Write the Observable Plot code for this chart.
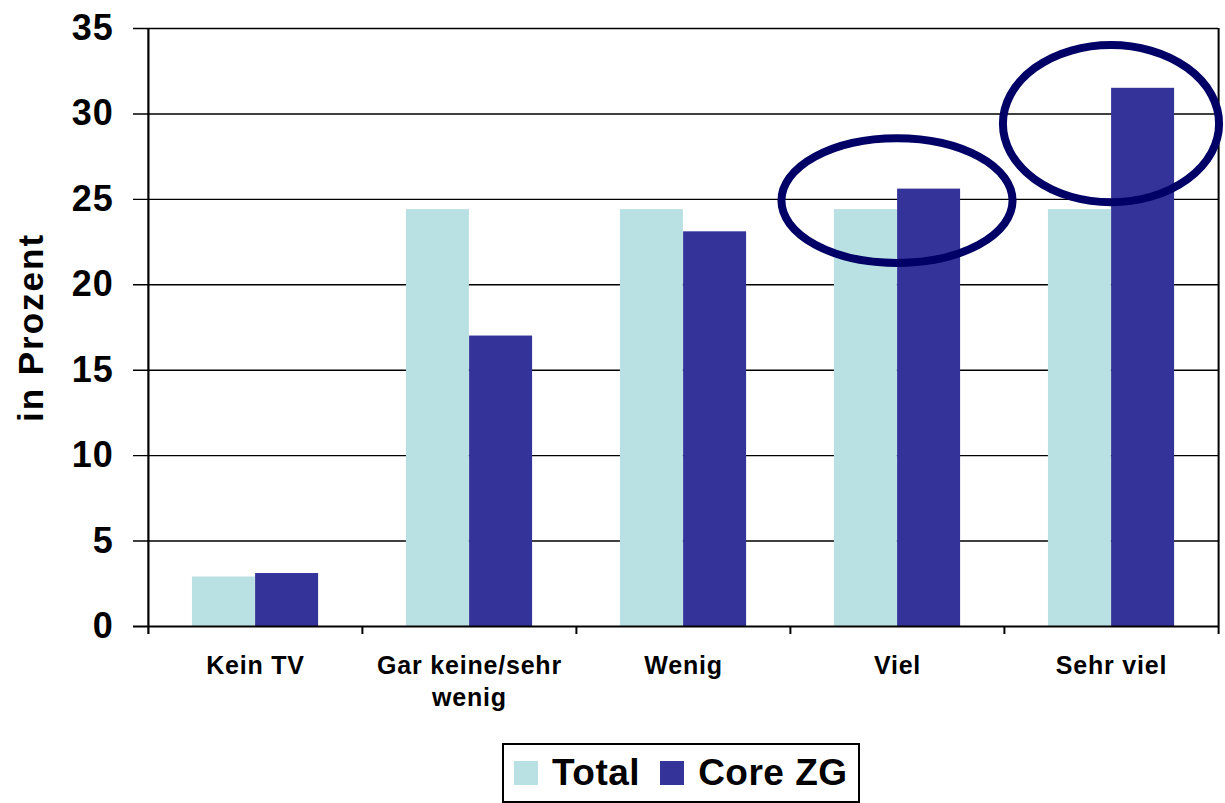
<!DOCTYPE html>
<html>
<head>
<meta charset="utf-8">
<script src="https://cdn.jsdelivr.net/npm/d3@7"></script>
<script src="https://cdn.jsdelivr.net/npm/@observablehq/plot@0.6"></script>
<style>
  body { margin: 0; background: #fff; font-family: "Liberation Sans", Arial, sans-serif; }
  #wrap { position: relative; width: 1225px; height: 803px; }
  #legend { position: absolute; left: 502px; top: 743px; width: 358px; height: 60px; box-sizing: border-box;
    border: 2px solid #000; display: flex; align-items: center; padding-left: 10px; font-weight: bold; font-size: 37px; color: #000; white-space: nowrap; }
  .sw { width: 24px; height: 24px; display: inline-block; margin-right: 14px; flex: none; }
  .item { display: flex; align-items: center; margin-right: 20px; letter-spacing: 0.5px; white-space: nowrap; }
</style>
</head>
<body>
<div id="wrap"><div id="chart"></div><div id="legend"></div></div>
<script>
const categories = ["Kein TV", "Gar keine/sehr wenig", "Wenig", "Viel", "Sehr viel"];
const xLabels = ["Kein TV", "Gar keine/sehr\nwenig", "Wenig", "Viel", "Sehr viel"];
const totalValues = [2.9, 24.4, 24.4, 24.4, 24.4];
const coreValues = [3.1, 17.0, 23.1, 25.6, 31.5];
const seriesNames = ["Total", "Core ZG"];
const seriesColors = ["#b9e0e3", "#333399"];
const yTicks = [0, 5, 10, 15, 20, 25, 30, 35];
const yLabel = "in Prozent";
// highlighted groups (ellipse annotations)
const annCats = ["Viel", "Sehr viel"];
const annCenterY = [24.9, 29.4];
const annRxBand = [0.54, 0.505];
const annRyUnits = [3.65, 4.6];

const width = 1225, height = 735;
const mL = 147, mR = 7, mT = 28, mB = 109;
const plotW = width - mL - mR, plotH = height - mT - mB;
const step = plotW / categories.length;

const data = categories.flatMap((c, i) => [
  {cat: c, series: seriesNames[0], value: totalValues[i]},
  {cat: c, series: seriesNames[1], value: coreValues[i]}
]);

const ellipses = (index, scales) => {
  const g = document.createElementNS("http://www.w3.org/2000/svg", "g");
  const x = scales.x, y = scales.y;
  const bw = typeof x.bandwidth === "function" ? x.bandwidth() : x.bandwidth;
  annCats.forEach((c, i) => {
    const e = document.createElementNS("http://www.w3.org/2000/svg", "ellipse");
    e.setAttribute("cx", x(c) + bw / 2);
    e.setAttribute("cy", y(annCenterY[i]));
    e.setAttribute("rx", bw * annRxBand[i]);
    e.setAttribute("ry", Math.abs(y(0) - y(annRyUnits[i])));
    e.setAttribute("fill", "none");
    e.setAttribute("stroke", "#000066");
    e.setAttribute("stroke-width", 8);
    g.appendChild(e);
  });
  return g;
};

const chart = Plot.plot({
  width, height,
  marginLeft: mL, marginRight: mR, marginTop: mT, marginBottom: mB,
  style: {fontFamily: "'Liberation Sans', Arial, sans-serif", background: "#fff", letterSpacing: "0.8px"},
  x: {type: "band", domain: categories, padding: 0, axis: null},
  y: {domain: [0, 35], axis: null},
  marks: [
    Plot.ruleY(yTicks.filter(d => d > 0), {y: d => d, stroke: "#000", strokeWidth: 1.4, insetLeft: -14}),
    Plot.barY(data.filter(d => d.series === seriesNames[0]), {x: "cat", y: "value", fill: seriesColors[0], insetLeft: step * 0.205, insetRight: step * 0.5}),
    Plot.barY(data.filter(d => d.series === seriesNames[1]), {x: "cat", y: "value", fill: seriesColors[1], insetLeft: step * 0.5, insetRight: step * 0.205}),
    Plot.ruleY([0], {stroke: "#000", strokeWidth: 2.2, insetLeft: -14}),
    // left axis line
    Plot.ruleX([categories[0]], {x: d => d, dx: -step / 2, stroke: "#000", strokeWidth: 2.2, insetBottom: -8}),
    // right border
    Plot.ruleX([categories[categories.length - 1]], {x: d => d, dx: step / 2, stroke: "#000", strokeWidth: 2, insetBottom: -8}),
    // inner category boundary ticks
    Plot.ruleX(categories.slice(1), {x: d => d, dx: -step / 2, stroke: "#000", strokeWidth: 2, insetTop: plotH, insetBottom: -8}),
    Plot.text(yTicks, {y: d => d, frameAnchor: "left", dx: -34, textAnchor: "end", text: d => String(d), fontSize: 36, fontWeight: "bold", fill: "#000"}),
    Plot.text(categories, {x: d => d, frameAnchor: "bottom", lineAnchor: "top", dy: 25, text: (d, i) => xLabels[i], fontSize: 25, fontWeight: "bold", lineHeight: 1.28, fill: "#000"}),
    Plot.text([yLabel], {frameAnchor: "left", textAnchor: "middle", rotate: -90, dx: -116, text: d => d, fontSize: 35, fontWeight: "bold", fill: "#000"}),
    ellipses
  ]
});
d3.select(chart).selectAll("text").filter(function () { return this.textContent === yLabel; }).style("letter-spacing", "2px");
document.getElementById("chart").appendChild(chart);

const legend = document.getElementById("legend");
seriesNames.forEach((s, i) => {
  const it = document.createElement("div");
  it.className = "item";
  const sw = document.createElement("span");
  sw.className = "sw";
  sw.style.background = seriesColors[i];
  it.appendChild(sw);
  it.appendChild(document.createTextNode(s));
  legend.appendChild(it);
});
</script>
</body>
</html>
